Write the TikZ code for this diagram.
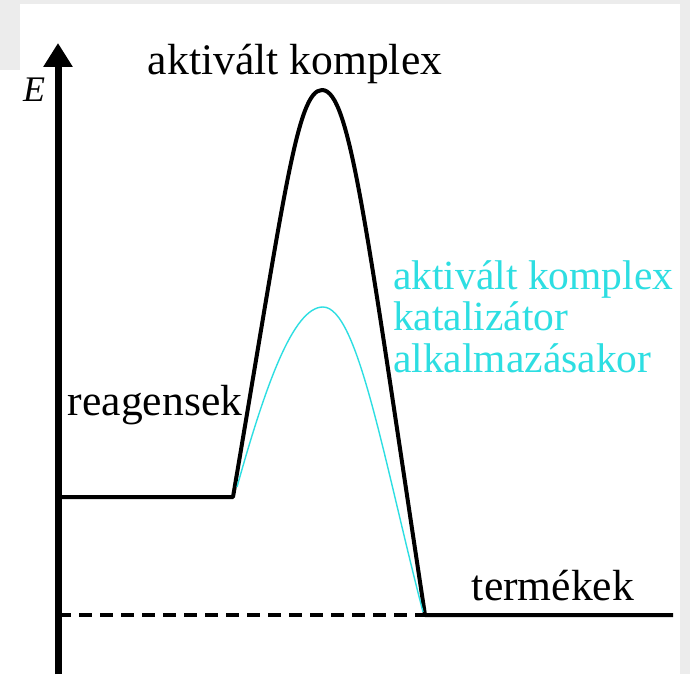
\documentclass[tikz,border=0pt]{standalone}
\usepackage{fontspec}
\setmainfont{Liberation Serif}
\usetikzlibrary{arrows.meta}
\definecolor{bggray}{RGB}{236,236,236}
\definecolor{catcyan}{RGB}{45,222,226}
\tikzset{
  lbl/.style={inner sep=0pt, anchor=base, font=\rmfamily\fontsize{43.6}{43.6}\selectfont},
  cyanlbl/.style={inner sep=0pt, anchor=base west, text=catcyan, font=\rmfamily\fontsize{41.5}{41.5}\selectfont},
  curve/.style={line width=4pt, line join=round},
  catcurve/.style={line width=1.4pt, catcyan},
  dashline/.style={line width=4pt, dash pattern=on 13pt off 8pt},
}
\begin{document}
\begin{tikzpicture}[x=1pt,y=-1pt]
\useasboundingbox (0,0) rectangle (690,674);
% background
\fill[bggray] (0,0) rectangle (690,674);
\fill[white] (20,4) rectangle (680,674);
\fill[white] (0,70) rectangle (20,674);
% key points
\coordinate (axisbot) at (58,674);
\coordinate (axistop) at (58,43);
\coordinate (rstart) at (58,497);
\coordinate (rend) at (233,497);
\coordinate (peak) at (322,90);
\coordinate (pstart) at (425,615);
\coordinate (pend) at (673,615);
\coordinate (dstart) at (58,615);
\coordinate (cstart) at (237,487);
\coordinate (cpeak) at (323,307);
\coordinate (cend) at (423,612);
% axis
\draw[line width=7pt, -{Triangle[length=24pt,width=28pt]}] (axisbot) -- (axistop);
\node[inner sep=0pt, anchor=base, font=\rmfamily\fontsize{36}{36}\selectfont] (E) at (34,102) {\textit{E}};
% dashed product level
\draw[dashline] (dstart) -- (pstart);
% uncatalysed profile
\draw[curve] (rstart) -- (rend)
  .. controls (284,197) and (297,90) .. (peak)
  .. controls (350,90) and (366,225) .. (pstart) -- (pend);
% catalysed profile
\draw[catcurve] (cstart) .. controls (265,387) and (293,307) .. (cpeak)
  .. controls (358,307) and (384,462) .. (cend);
% labels
\node[lbl] (ak) at (295,75) {aktivált komplex};
\node[lbl] (reag) at (155,415) {reagensek};
\node[lbl] (term) at (553,600) {termékek};
\node[cyanlbl] (cat1) at (393,289) {aktivált komplex};
\node[cyanlbl] (cat2) at (393,330) {katalizátor};
\node[cyanlbl] (cat3) at (393,372) {alkalmazásakor};
\end{tikzpicture}
\end{document}
